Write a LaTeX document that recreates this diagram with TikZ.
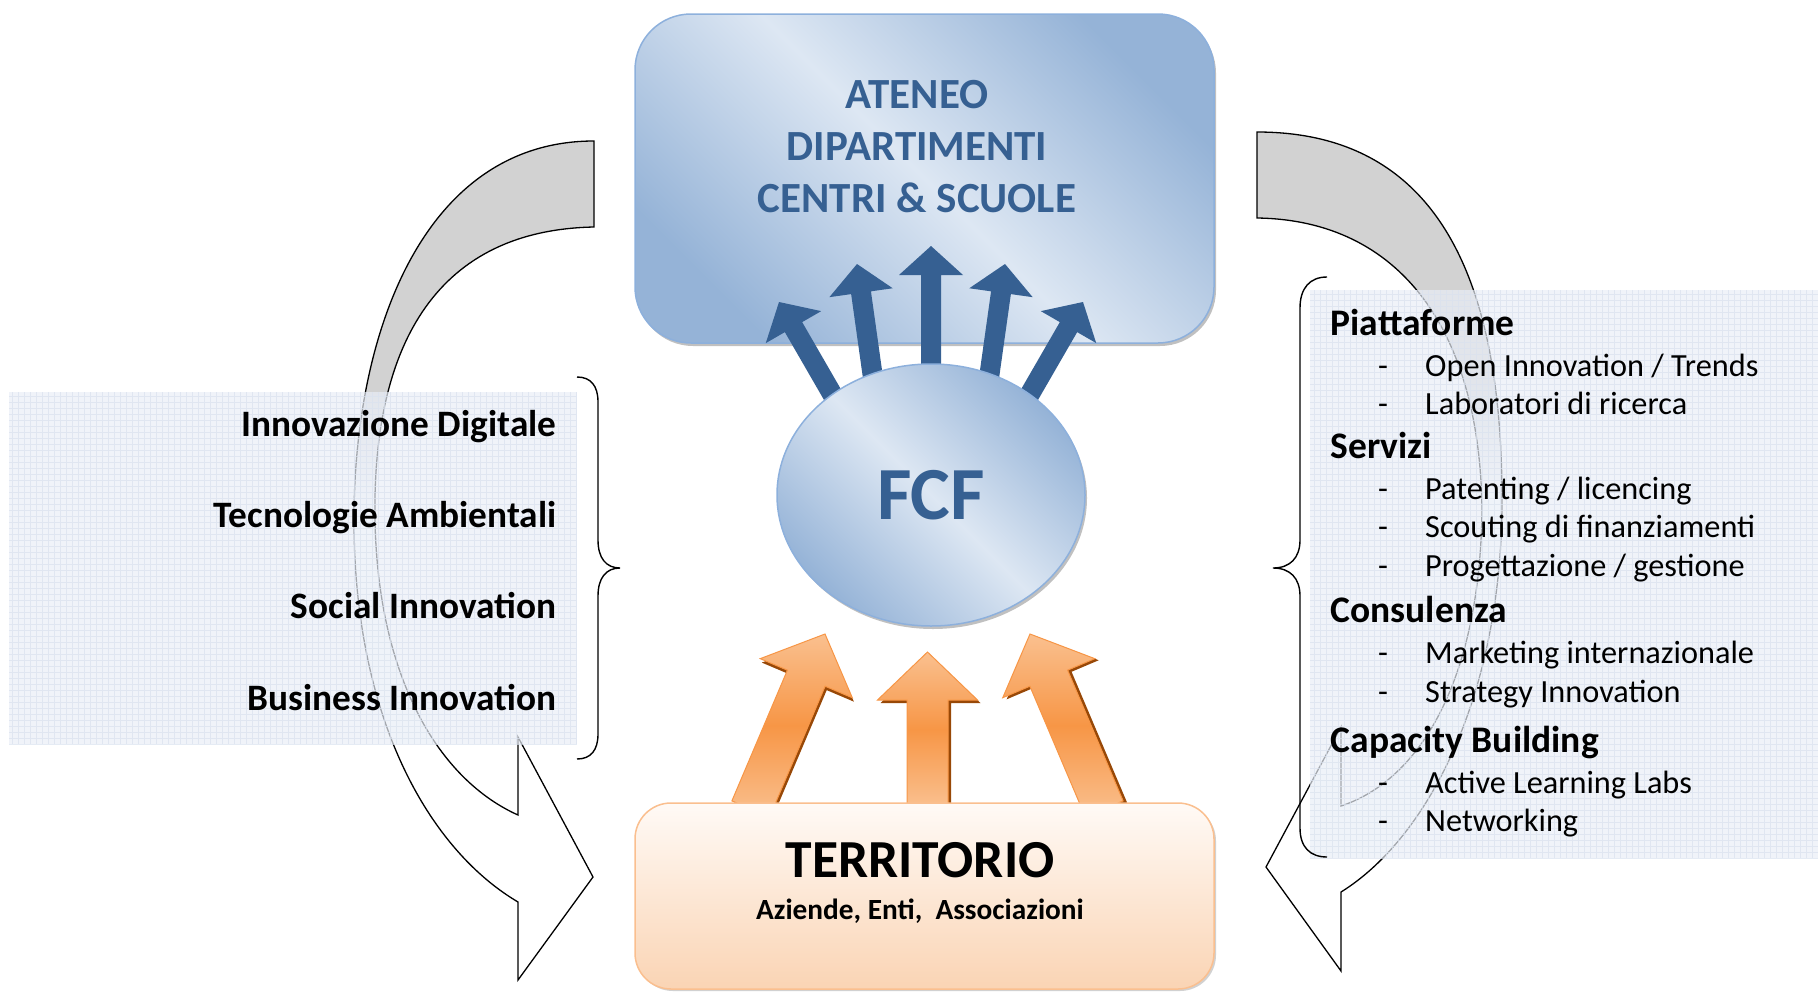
\documentclass[tikz,border=0pt]{standalone}
\usepackage{fontspec}
\setmainfont{Carlito}
\usetikzlibrary{shapes.geometric,shadows}

\definecolor{fcfblue}{RGB}{54,96,146}
\definecolor{boxlight}{RGB}{221,231,243}
\definecolor{boxdark}{RGB}{149,179,215}
\definecolor{boxline}{RGB}{141,176,220}
\definecolor{terrtop}{RGB}{255,250,246}
\definecolor{terrbot}{RGB}{250,212,180}
\definecolor{terrline}{RGB}{250,191,143}
\definecolor{orlight}{RGB}{250,192,143}
\definecolor{ormid}{RGB}{247,150,70}
\definecolor{orshadow}{RGB}{152,72,7}
\definecolor{listbg}{RGB}{233,238,247}
\definecolor{listgrid}{RGB}{218,226,239}

% gray at the top of the curved arrows, white further down
\pgfdeclareverticalshading{curvefade}{100bp}{color(0bp)=(white); color(53bp)=(white); color(60bp)=(gray!35); color(100bp)=(gray!35)}

\tikzset{
  unibox/.style={rectangle, rounded corners=56pt, draw=boxline, line width=1.5pt,
    top color=boxdark, bottom color=boxdark, middle color=boxlight, shading angle=-45,
    drop shadow={shadow xshift=2pt, shadow yshift=-3pt, fill=gray!55, opacity=0.9}},
  fcfell/.style={ellipse, draw=boxline, line width=1.5pt, inner sep=0pt,
    top color=boxdark, bottom color=boxdark, middle color=boxlight, shading angle=-45,
    drop shadow={shadow xshift=2pt, shadow yshift=-3pt, fill=gray!55, opacity=0.9}},
  terrbox/.style={rectangle, rounded corners=36pt, draw=terrline, line width=1.5pt,
    top color=terrtop, bottom color=terrbot,
    drop shadow={shadow xshift=2pt, shadow yshift=-2pt, fill=gray!45, opacity=0.8}},
  panel/.style={rectangle, fill=listbg, fill opacity=0.7, inner sep=0pt},
  panelgrid/.style={listgrid, line width=0.5pt, opacity=0.7},
  curvearrow/.style={draw=black, line width=1.3pt, shading=curvefade},
  bracket/.style={draw=black, line width=1.4pt},
  unitext/.style={text=fcfblue, font=\fontsize{43}{50}\selectfont\bfseries, anchor=base, inner sep=0pt},
  areatext/.style={font=\fontsize{37.3}{45}\selectfont\bfseries, anchor=base east, inner sep=0pt},
  headtext/.style={font=\fontsize{37.5}{44}\selectfont\bfseries, anchor=base west, inner sep=0pt},
  itemtext/.style={font=\fontsize{32.3}{38}\selectfont, anchor=base west, inner sep=0pt},
}

\begin{document}
\begin{tikzpicture}[x=1pt, y=-1pt]
    \useasboundingbox (0,0) rectangle (1818,991);

    % Curved arrow on the left (Ateneo -> Territorio)
    \draw[curvearrow] (594,141) .. controls (425,141) and (354,330) .. (354,520)
        .. controls (354,720) and (430,850) .. (518,902)
        -- (518,980) -- (593,877) -- (518,737) -- (518,815)
        .. controls (440,780) and (378,680) .. (375,520)
        .. controls (372,340) and (440,230) .. (594,227) -- cycle;

    % Curved arrow on the right
    \draw[curvearrow] (1257,132) .. controls (1450,132) and (1502,300) .. (1502,500)
        .. controls (1502,700) and (1425,840) .. (1341,892)
        -- (1341,971) -- (1266,867) -- (1341,727) -- (1341,806)
        .. controls (1420,780) and (1480,680) .. (1482,510)
        .. controls (1480,330) and (1400,220) .. (1257,218) -- cycle;

    % Left panel with the areas
    \node[panel, minimum width=568pt, minimum height=352pt] (areas) at (293,568) {};
    \draw[panelgrid] (areas.south west) grid[step=6pt] (areas.north east);

    % Right panel with the services
    \node[panel, minimum width=508pt, minimum height=568pt] (services) at (1564,574) {};
    \draw[panelgrid] (services.south west) grid[step=6pt] (services.north east);

    % Braces
    \draw[bracket] (577,377) .. controls (591,377) and (598,386) .. (598,402) -- (598,540)
        .. controls (598,558) and (606,568) .. (620,568)
        .. controls (606,568) and (598,578) .. (598,596) -- (598,734)
        .. controls (598,750) and (591,759) .. (577,759);
    \draw[bracket] (1327,277) .. controls (1310,277) and (1300,288) .. (1300,308) -- (1300,540)
        .. controls (1300,558) and (1290,568) .. (1273,568)
        .. controls (1290,568) and (1300,578) .. (1300,596) -- (1300,828)
        .. controls (1300,847) and (1310,857) .. (1327,857);

    % Ateneo box
    \node[unibox, minimum width=579pt, minimum height=329pt] (ateneo) at (924.5,178.5) {};
    \node[unitext] (ateneo1) at (917,108) {ATENEO};
    \node[unitext] (ateneo2) at (917,160) {DIPARTIMENTI};
    \node[unitext] (ateneo3) at (917,212) {CENTRI \& SCUOLE};

    % Blue arrows from FCF to Ateneo
    \foreach \tx/\ty/\ang in {779/302/30, 857/264/8, 931/246/0, 1005/264/-8, 1083/302/-30}{
        \begin{scope}[shift={(\tx,\ty)}, rotate=\ang]
            \fill[fcfblue] (0,0) -- (32,29) -- (10,29) -- (10,150) -- (-10,150) -- (-10,29) -- (-32,29) -- cycle;
        \end{scope}
    }

    % FCF
    \node[fcfell, minimum width=308pt, minimum height=262pt, text=fcfblue,
        font=\fontsize{75}{80}\selectfont\bfseries] (fcf) at (931,495) {FCF};

    % Orange arrows from Territorio to FCF
    \foreach \tx/\ty/\ang/\len in {825/634/-23/190, 927.5/652/0/155, 1030/634/23/190}{
        \begin{scope}[shift={(\tx,\ty)}, rotate=\ang]
            \def\orpath{(0,0) -- (50,48) -- (20.5,48) -- (20.5,\len) -- (-20.5,\len) -- (-20.5,48) -- (-50,48) -- cycle}
            \fill[orshadow, xshift=3pt, yshift=-3pt] \orpath;
            \draw[ormid, line width=1pt, top color=orlight, bottom color=orlight, middle color=ormid] \orpath;
        \end{scope}
    }

    % Territorio box
    \node[terrbox, minimum width=579pt, minimum height=186pt] (territorio) at (924.5,896) {};
    \node[anchor=base, inner sep=0pt, font=\fontsize{53.5}{60}\selectfont\bfseries] (terrtitle) at (920,877) {TERRITORIO};
    \node[anchor=base, inner sep=0pt, font=\fontsize{29.3}{34}\selectfont\bfseries] (terrsub) at (920,919) {Aziende, Enti,\ \ Associazioni};

    % Areas
    \node[areatext] (digitale) at (556.5,436.7) {Innovazione Digitale};
    \node[areatext] (ambiente) at (556.5,527.7) {Tecnologie Ambientali};
    \node[areatext] (social) at (556.5,618.3) {Social Innovation};
    \node[areatext] (business) at (556.5,710) {Business Innovation};

    % Services
    \node[headtext] (piatt) at (1330.5,335.7) {Piattaforme};
    \node[itemtext] (d1) at (1378,376.7) {-};
    \node[itemtext] (open) at (1425,376.7) {Open Innovation / Trends};
    \node[itemtext] (d2) at (1378,414.3) {-};
    \node[itemtext] (labs) at (1425,414.3) {Laboratori di ricerca};
    \node[headtext] (servizi) at (1330.5,458.3) {Servizi};
    \node[itemtext] (d3) at (1378,499) {-};
    \node[itemtext] (patent) at (1425,499) {Patenting / licencing};
    \node[itemtext] (d4) at (1378,537.7) {-};
    \node[itemtext] (scout) at (1425,537.7) {Scouting di finanziamenti};
    \node[itemtext] (d5) at (1378,576.7) {-};
    \node[itemtext] (progett) at (1425,576.7) {Progettazione / gestione};
    \node[headtext] (consul) at (1330.5,622) {Consulenza};
    \node[itemtext] (d6) at (1378,663) {-};
    \node[itemtext] (market) at (1425,663) {Marketing internazionale};
    \node[itemtext] (d7) at (1378,702) {-};
    \node[itemtext] (strategy) at (1425,702) {Strategy Innovation};
    \node[headtext] (capacity) at (1330.5,752) {Capacity Building};
    \node[itemtext] (d8) at (1378,793) {-};
    \node[itemtext] (active) at (1425,793) {Active Learning Labs};
    \node[itemtext] (d9) at (1378,831) {-};
    \node[itemtext] (network) at (1425,831) {Networking};
\end{tikzpicture}
\end{document}
